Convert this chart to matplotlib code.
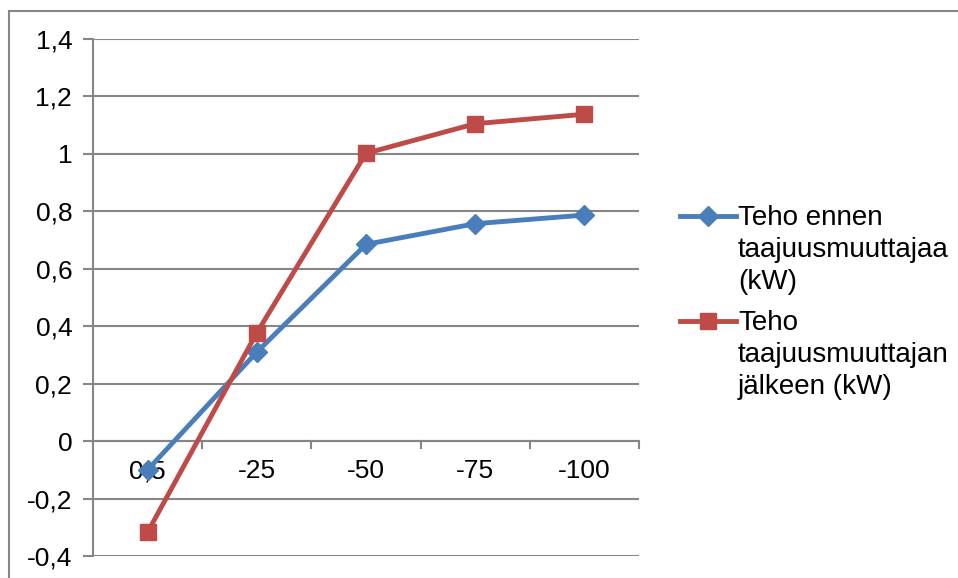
import matplotlib.pyplot as plt
from matplotlib.lines import Line2D
from matplotlib.patches import Rectangle
from matplotlib.ticker import FuncFormatter
import numpy as np

plt.rcParams['font.family'] = ['Liberation Sans', 'DejaVu Sans']

categories = ["0,5", "-25", "-50", "-75", "-100"]
teho_ennen = [-0.10, 0.31, 0.685, 0.757, 0.787]
teho_jalkeen = [-0.317, 0.377, 1.002, 1.105, 1.138]
labels = ["Teho ennen\ntaajuusmuuttajaa\n(kW)", "Teho\ntaajuusmuuttajan\njälkeen (kW)"]
colors = ["#4a7ebb", "#be4b48"]
markers = ["D", "s"]

W, H = 958, 578
fig = plt.figure(figsize=(W / 100, H / 100), dpi=100)
ax = fig.add_axes([93 / W, 1 - 556 / H, (639 - 93) / W, (556 - 39) / H])

grid_c = "#868686"
x = np.arange(len(categories))
ax.plot(x, teho_ennen, color=colors[0], lw=3.5, marker="D", ms=10, zorder=3, clip_on=False)
ax.plot(x, teho_jalkeen, color=colors[1], lw=3.5, marker="s", ms=12, zorder=3, clip_on=False)

ax.set_xlim(-0.5, len(categories) - 0.5)
ax.set_ylim(-0.4, 1.4)
yt = np.round(np.arange(-0.4, 1.41, 0.2), 1)
ax.set_yticks(yt)
ax.yaxis.set_major_formatter(FuncFormatter(lambda v, p: f"{v:g}".replace(".", ",")))
ax.grid(axis="y", color=grid_c, lw=1.5)
ax.set_axisbelow(True)
for s in ["top", "right", "bottom"]:
    ax.spines[s].set_visible(False)
ax.spines["left"].set_color(grid_c)
ax.spines["left"].set_linewidth(1.5)
ax.tick_params(axis="y", length=7, width=1.5, color=grid_c, labelsize=19, pad=8)

# category axis crossing at zero
ax.axhline(0, color=grid_c, lw=1.5, zorder=1)
ax.set_xticks([])
for i in range(1, len(categories) + 1):
    ax.plot([i - 0.5, i - 0.5], [0, -0.025], color=grid_c, lw=1.5, zorder=1, clip_on=False)
for i, c in enumerate(categories):
    ax.text(i, -0.105, c, ha="center", va="center", fontsize=19, zorder=2)

# legend, handle aligned with first text line
leg_y = [216, 321]
for k in range(2):
    yf = 1 - leg_y[k] / H
    fig.add_artist(Line2D([680 / W, 736 / W], [yf, yf], color=colors[k], lw=3.5))
    fig.add_artist(Line2D([708 / W], [yf], color=colors[k], marker=markers[k],
                          ms=10 if k == 0 else 12, lw=0))
    fig.text(738 / W, 1 - (leg_y[k] - 11) / H, labels[k], fontsize=20, va="top",
             ha="left", linespacing=1.3)

fig.add_artist(Rectangle((9 / W, -0.1), 1.2, 1.1 - 11 / H, transform=fig.transFigure,
                         fill=False, edgecolor=grid_c, lw=1.5))

fig.savefig("out.png", dpi=100)
